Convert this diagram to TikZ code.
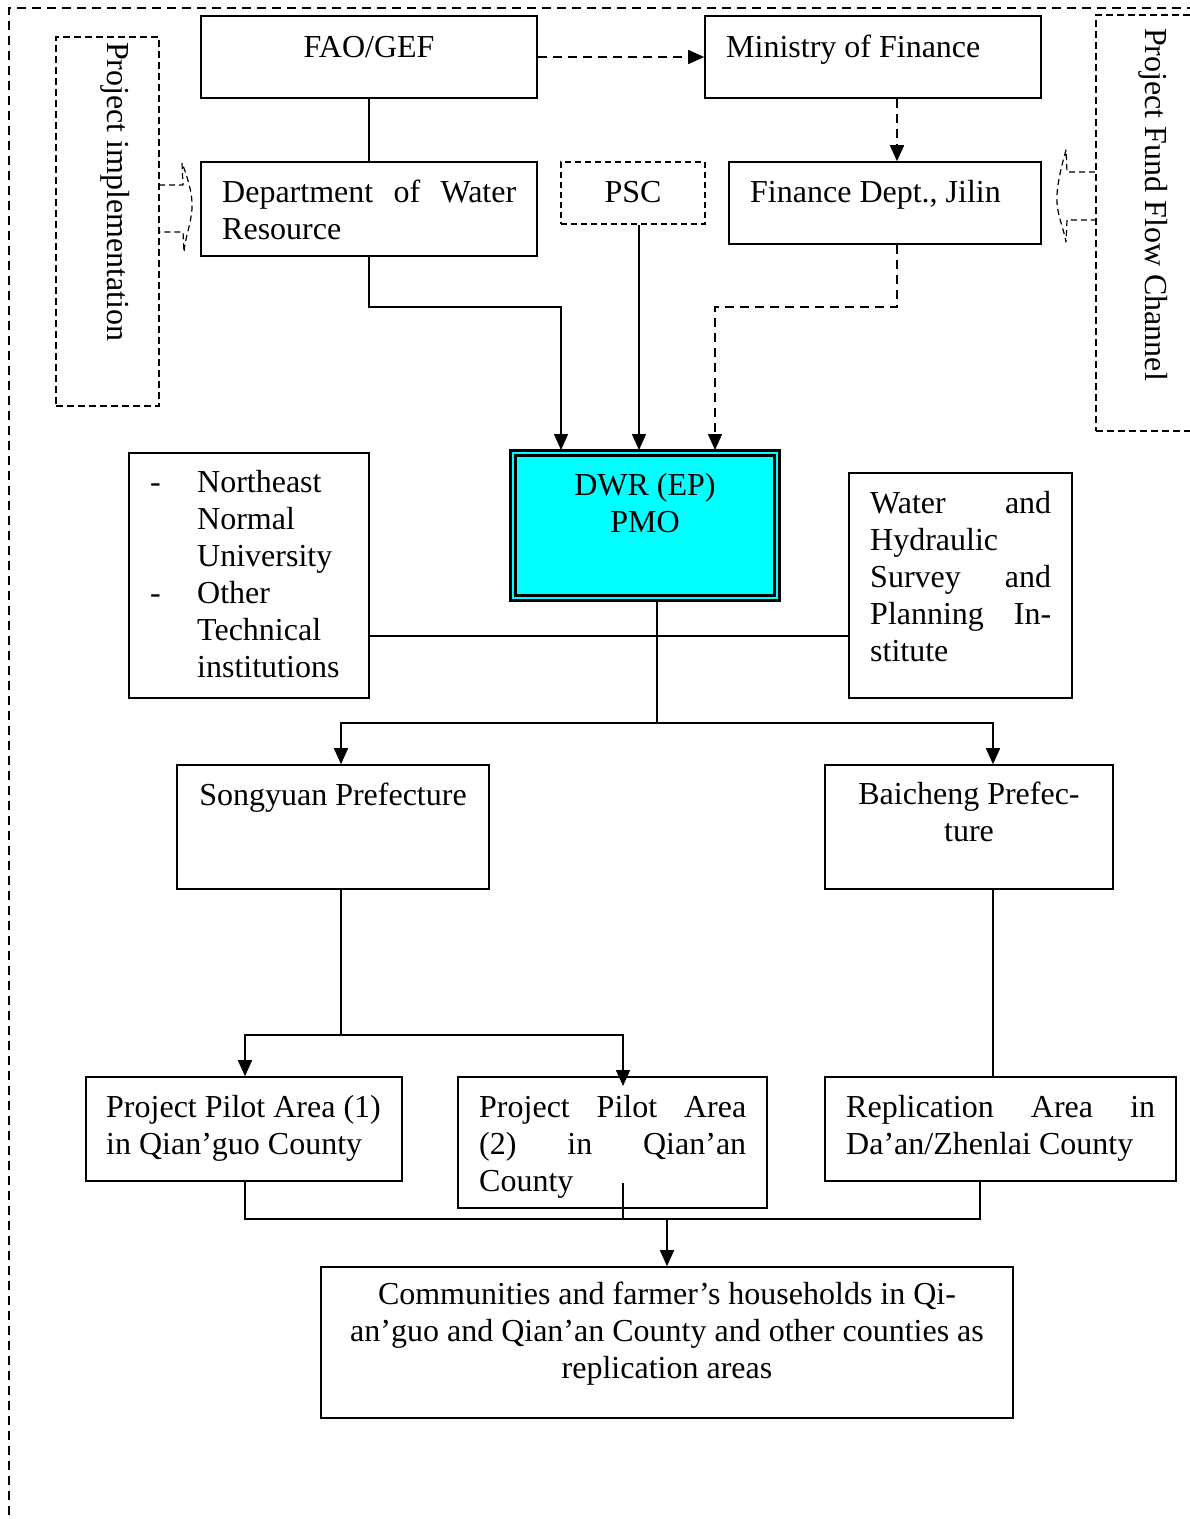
\documentclass[tikz,border=0pt]{standalone}
\usepackage{fontspec}
\setmainfont{Liberation Serif}
\usetikzlibrary{arrows.meta,fit}
\definecolor{aqua}{RGB}{0,255,255}
\begin{document}
\begin{tikzpicture}[x=1pt,y=-1pt,
 box/.style={draw, line width=1.6pt, inner sep=0pt},
 dbox/.style={draw, line width=1.6pt, inner sep=0pt, dash pattern=on 7pt off 4pt},
 txt/.style={inner sep=0pt, font=\fontsize{32}{37}\selectfont},
 conn/.style={line width=1.4pt},
 arr/.style={line width=1.6pt, -{Triangle[length=16pt,width=14pt]}},
 darr/.style={arr, dash pattern=on 9pt off 6pt},
 frame/.style={line width=1.6pt, dash pattern=on 9pt off 6pt},
 barrow/.style={line width=1.2pt, dash pattern=on 6pt off 4pt, line join=round},
]
\useasboundingbox (0,0) rectangle (1190,1519);
\clip (0,0) rectangle (1190,1519);

% outer frame
\draw[frame] (9,1530) -- (9,8) -- (1200,8);

% side boxes
\node[dbox, fit={(56,37) (159,406)}] (pibox) {};
\node[txt, rotate=-90, anchor=base west] (piT) at (107,42) {Project implementation};
\node[dbox, fit={(1096,15) (1210,431)}] (ffbox) {};
\node[txt, rotate=-90, anchor=base west] (ffT) at (1145,28) {Project Fund Flow Channel};

% block arrows
\draw[barrow] (159,185) -- (183,185) -- (182,163) .. controls (188,178) and (193,196) .. (192,209)
  .. controls (191,224) and (185,238) .. (184,252) -- (183,232) -- (159,232);
\draw[barrow] (1095,172) -- (1067,172) -- (1066,150) .. controls (1061,168) and (1056,188) .. (1057,203)
  .. controls (1058,217) and (1064,230) .. (1066,242) -- (1067,220) -- (1095,220);

% boxes
\node[box, fit={(201,16) (537,98)}] (fao) {};
\node[box, fit={(705,16) (1041,98)}] (min) {};
\node[box, fit={(201,162) (537,256)}] (dwres) {};
\node[dbox, line width=1.4pt, dash pattern=on 6pt off 4pt, fit={(561,162) (705,224)}] (psc) {};
\node[box, fit={(729,162) (1041,244)}] (findept) {};
\node[draw, fill=aqua, line width=3pt, double=aqua, double distance=1.4pt, inner sep=0pt, fit={(513,453) (777,598)}] (dwr) {};
\node[box, fit={(129,453) (369,698)}] (nenu) {};
\node[box, fit={(849,473) (1072,698)}] (water) {};
\node[box, fit={(177,765) (489,889)}] (song) {};
\node[box, fit={(825,765) (1113,889)}] (bai) {};
\node[box, fit={(86,1077) (402,1181)}] (p1) {};
\node[box, fit={(458,1077) (767,1208)}] (p2) {};
\node[box, fit={(825,1077) (1176,1181)}] (rep) {};
\node[box, fit={(321,1267) (1013,1418)}] (comm) {};

% texts
\node[txt, anchor=base] (faoT) at (369,57) {FAO/GEF};
\node[txt, anchor=base west] (minT) at (726,57) {Ministry of Finance};
\node[txt, anchor=base west] (dwresT) at (222,202) {\parbox[t]{294pt}{\makebox[294pt][s]{Department of Water}\\Resource}};
\node[txt, anchor=base] (pscT) at (633,202) {PSC};
\node[txt, anchor=base west] (findeptT) at (750,202) {Finance Dept., Jilin};
\node[txt, anchor=base] (dwrT) at (645,495) {\parbox[t]{220pt}{\centering DWR (EP)\\PMO}};
\node[txt, anchor=base west] (nenuT) at (150,492) {\parbox[t]{215pt}{\makebox[47pt][l]{-}Northeast\\\hspace*{47pt}Normal\\\hspace*{47pt}University\\\makebox[47pt][l]{-}Other\\\hspace*{47pt}Technical\\\hspace*{47pt}institutions}};
\node[txt, anchor=base west] (waterT) at (870,513) {\parbox[t]{181pt}{\makebox[181pt][s]{Water and}\\Hydraulic\\\makebox[181pt][s]{Survey and}\\\makebox[181pt][s]{Planning In-}\\stitute}};
\node[txt, anchor=base] (songT) at (333,805) {Songyuan Prefecture};
\node[txt, anchor=base] (baiT) at (969,804) {\parbox[t]{270pt}{\centering Baicheng Prefec-\\ture}};
\node[txt, anchor=base west] (p1T) at (106,1117) {\parbox[t]{290pt}{Project Pilot Area (1)\\in Qian’guo County}};
\node[txt, anchor=base west] (p2T) at (479,1117) {\parbox[t]{267pt}{\makebox[267pt][s]{Project Pilot Area}\\\makebox[267pt][s]{(2) in Qian’an}\\County}};
\node[txt, anchor=base west] (repT) at (846,1117) {\parbox[t]{309pt}{\makebox[309pt][s]{Replication Area in}\\Da’an/Zhenlai County}};
\node[txt, anchor=base] (commT) at (667,1304) {\parbox[t]{670pt}{\centering Communities and farmer’s households in Qi-\\an’guo and Qian’an County and other counties as\\replication areas}};

% connectors
\coordinate (r1) at (0,57);
\draw[darr] (fao.east |- r1) -- (min.west |- r1);
\coordinate (c897) at (897,0);
\draw[darr] (min.south -| c897) -- (findept.north -| c897);
\draw[conn] (fao.south) -- (dwres.north);

\coordinate (dtop) at (0,450);
\coordinate (k1) at (561,307);
\draw[arr] (dwres.south) |- (k1) -- (k1 |- dtop);
\coordinate (k2) at (639,0);
\draw[arr] (psc.south -| k2) -- (k2 |- dtop);
\coordinate (k3) at (897,307);
\coordinate (k4) at (715,307);
\draw[darr] (findept.south -| k3) -- (k3) -- (k4) -- (k4 |- dtop);

\coordinate (h636) at (0,636);
\draw[conn] (nenu.east |- h636) -- (water.west |- h636);
\coordinate (k5) at (657,723);
\draw[conn] (dwr.south -| k5) -- (k5);
\coordinate (k6) at (341,723);
\coordinate (k7) at (993,723);
\draw[arr] (k5) -- (k6) -- (k6 |- song.north);
\draw[arr] (k5) -- (k7) -- (k7 |- bai.north);

\coordinate (k8) at (341,1035);
\coordinate (k9) at (245,1035);
\coordinate (k10) at (623,1035);
\coordinate (k10b) at (623,1086);
\draw[conn] (song.south -| k8) -- (k8);
\draw[arr] (k8) -- (k9) -- (k9 |- p1.north);
\draw[arr] (k8) -- (k10) -- (k10b);
\draw[conn] (bai.south -| k7) -- (rep.north -| k7);

\coordinate (b1) at (245,1219);
\coordinate (b2) at (623,1219);
\coordinate (b2top) at (623,1183);
\coordinate (b3) at (980,1219);
\coordinate (b4) at (667,1219);
\draw[conn] (p1.south -| b1) -- (b1) -- (b3) -- (rep.south -| b3);
\draw[conn] (b2top) -- (b2);
\draw[arr] (b4) -- (comm.north -| b4);
\end{tikzpicture}
\end{document}
